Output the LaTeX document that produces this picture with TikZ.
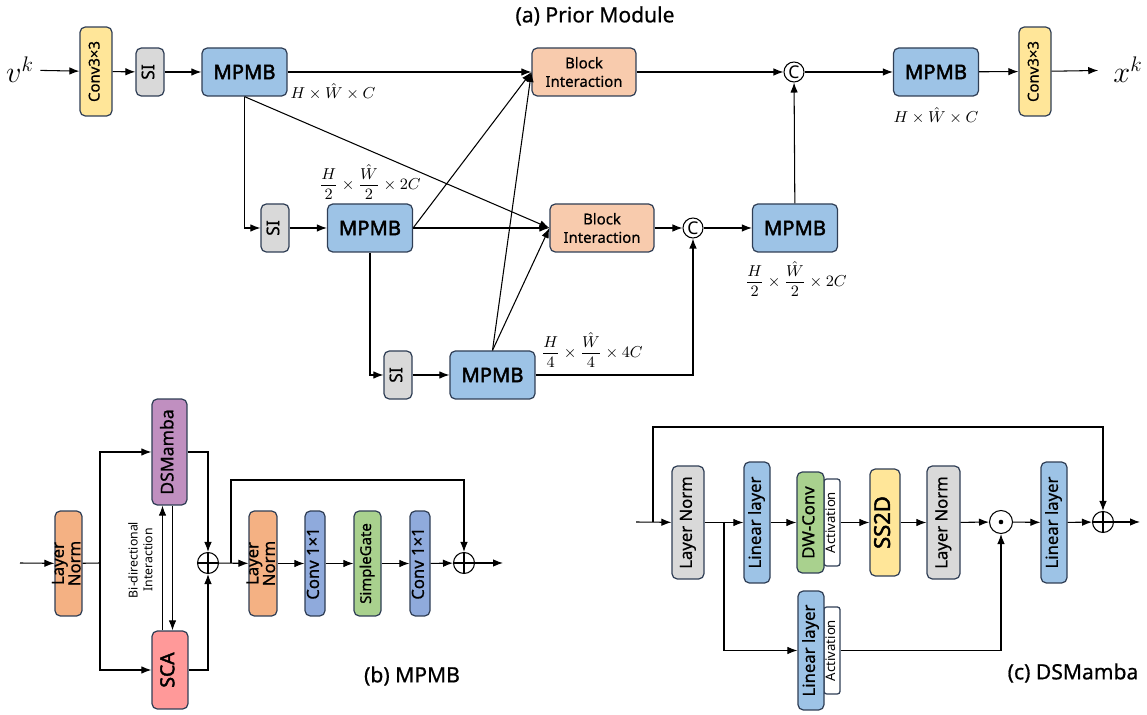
\documentclass[tikz,border=0pt]{standalone}
\usepackage{fontspec}
\setmainfont{Noto Sans}
\newfontfamily\heavy{Noto Sans}[FakeBold=2.2]
\newfontfamily\medium{Noto Sans}[FakeBold=0.7]
\usetikzlibrary{arrows.meta}

\definecolor{edge}{RGB}{47,62,85}
\definecolor{convyellow}{RGB}{255,230,153}
\definecolor{sigray}{RGB}{217,217,217}
\definecolor{mpmbblue}{RGB}{157,195,230}
\definecolor{bipeach}{RGB}{248,203,173}
\definecolor{lnorange}{RGB}{244,177,131}
\definecolor{mambapurple}{RGB}{192,143,192}
\definecolor{scapink}{RGB}{255,153,153}
\definecolor{convblue}{RGB}{143,170,220}
\definecolor{gategreen}{RGB}{169,209,142}

\tikzset{
    blk/.style={draw=edge, line width=0.7pt, rounded corners=3pt, inner sep=0pt},
    mpmb/.style={blk, fill=mpmbblue, minimum width=1.7cm, minimum height=0.96cm, font=\fontsize{11.5}{13}\heavy},
    bi/.style={blk, fill=bipeach, minimum width=2.08cm, minimum height=0.96cm, align=center, font=\fontsize{8.5}{10.5}\medium},
    conv33/.style={blk, fill=convyellow, minimum width=0.64cm, minimum height=1.78cm, font=\fontsize{8.5}{10}\medium},
    si/.style={blk, fill=sigray, minimum width=0.56cm, minimum height=0.96cm, font=\fontsize{10}{12}\medium},
    act/.style={blk, fill=white, rounded corners=1.5pt, minimum width=0.32cm, minimum height=1.74cm, font=\fontsize{7.5}{9}\selectfont},
    cat/.style={draw, circle, inner sep=0pt, minimum size=0.4cm, font=\fontsize{10}{12}\selectfont},
    oplus/.style={draw, circle, inner sep=0pt, minimum size=0.42cm,
        path picture={\draw (path picture bounding box.north) -- (path picture bounding box.south)
                            (path picture bounding box.west) -- (path picture bounding box.east);}},
    odot/.style={draw, circle, inner sep=0pt, minimum size=0.46cm,
        path picture={\fill (path picture bounding box.center) circle (1.3pt);}},
    dims/.style={font=\fontsize{9}{10}\selectfont},
    title/.style={font=\fontsize{12}{14}\medium},
}
\newcommand{\vtext}[1]{\makebox[0pt]{\rotatebox{90}{\begin{tabular}{@{}c@{}}#1\end{tabular}}}}

\begin{document}
\begin{tikzpicture}[x=0.02cm, y=-0.02cm, >={Latex[length=2mm,width=1.5mm]}, line width=0.6pt]
    \useasboundingbox (0,0) rectangle (1147,715);

    % (a) prior module
    \node[title] (titleA) at (595,16) {(a) Prior Module};
    \node[font=\fontsize{17}{20}\selectfont] (vk) at (20,70) {$v^k$};
    \node[conv33] (convA) at (96,71.5) {\vtext{Conv3×3}};
    \node[si] (siA) at (150,72) {\vtext{SI}};
    \node[mpmb] (mpmbA) at (244.5,72) {MPMB};
    \node[bi] (biA) at (584,72) {Block\\Interaction};
    \node[cat] (catA) at (794,72) {C};
    \node[mpmb] (mpmbE) at (936,72) {MPMB};
    \node[conv33] (convB) at (1035,71.5) {\vtext{Conv3×3}};
    \node[font=\fontsize{17}{20}\selectfont] (xk) at (1128,70) {$x^k$};

    \node[si] (siB) at (275,228) {\vtext{SI}};
    \node[mpmb] (mpmbB) at (370,228) {MPMB};
    \node[bi] (biB) at (602,228) {Block\\Interaction};
    \node[cat] (catB) at (693,228) {C};
    \node[mpmb] (mpmbD) at (795,228) {MPMB};
    \node[si] (siC) at (398,375) {\vtext{SI}};
    \node[mpmb] (mpmbC) at (492.5,375) {MPMB};

    \node[dims] (dimA) at (333,92) {$H\times\hat W\times C$};
    \node[dims] (dimE) at (936,116) {$H\times\hat W\times C$};
    \node[dims] (dimB) at (370,182) {$\displaystyle\frac{H}{2}\times\frac{\hat W}{2}\times 2C$};
    \node[dims] (dimD) at (796,279) {$\displaystyle\frac{H}{2}\times\frac{\hat W}{2}\times 2C$};
    \node[dims] (dimC) at (592,350) {$\displaystyle\frac{H}{4}\times\frac{\hat W}{4}\times 4C$};

    \draw[->] (vk) -- (convA);
    \draw[->] (convA) -- (siA);
    \draw[->] (siA) -- (mpmbA);
    \draw[->] (mpmbA) -- (biA);
    \draw[->] (biA) -- (catA);
    \draw[->] (catA) -- (mpmbE);
    \draw[->] (mpmbE) -- (convB);
    \draw[->, shorten >=5pt] (convB) -- (xk);
    \draw[->] (mpmbA.south) |- (siB);
    \draw[->] (mpmbA.south) -- (biB.west);
    \draw[->] (siB) -- (mpmbB);
    \draw[->] (mpmbB) -- (biB);
    \draw[->] (mpmbB.east) -- (biA.west);
    \draw[->] (mpmbB.south) |- (siC);
    \draw[->] (siC) -- (mpmbC);
    \draw[->] (mpmbC.north) -- (biA.west);
    \draw[->] (mpmbC.north) -- (biB.west);
    \draw[->] (mpmbC) -| (catB);
    \draw[->] (biB) -- (catB);
    \draw[->] (catB) -- (mpmbD);
    \draw[->] (mpmbD) -- (catA);

    % (b) MPMB
    \coordinate (inB) at (20,563);
    \node[blk, fill=lnorange, minimum width=0.54cm, minimum height=2.1cm, font=\fontsize{9.5}{9}\medium] (lnB) at (68.5,563.5) {\vtext{Layer\\Norm}};
    \coordinate (splitB) at (100,563);
    \node[blk, fill=mambapurple, minimum width=0.7cm, minimum height=2.12cm, font=\fontsize{10}{11}\medium] (dsmB) at (169.5,452) {\vtext{DSMamba}};
    \node[blk, fill=scapink, minimum width=0.72cm, minimum height=1.56cm, font=\fontsize{11}{12}\heavy] (scaB) at (170,670) {\vtext{SCA}};
    \node[font=\fontsize{7}{8.5}\selectfont] (bidir) at (142,560) {\vtext{Bi-directional\\Interaction}};
    \node[oplus] (addB) at (208,563) {};
    \coordinate (skipB) at (231,563);
    \node[blk, fill=lnorange, minimum width=0.56cm, minimum height=2.1cm, font=\fontsize{9.5}{9}\medium] (lnBB) at (263,563.5) {\vtext{Layer\\Norm}};
    \node[blk, fill=convblue, minimum width=0.4cm, minimum height=2.1cm, font=\fontsize{9.5}{11}\medium] (convC) at (315,563.5) {\vtext{Conv 1×1}};
    \node[blk, fill=gategreen, minimum width=0.54cm, minimum height=2.1cm, font=\fontsize{8.5}{10}\medium] (gate) at (367.5,563.5) {\vtext{SimpleGate}};
    \node[blk, fill=convblue, minimum width=0.4cm, minimum height=2.1cm, font=\fontsize{9.5}{11}\medium] (convD) at (420,563.5) {\vtext{Conv 1×1}};
    \node[oplus] (addBB) at (464,563) {};
    \coordinate (outB) at (503,563);
    \node[title] (titleB) at (412,676) {(b) MPMB};

    \draw[->] (inB) -- (lnB);
    \draw (lnB) -- (splitB);
    \draw[->] (splitB) |- (dsmB);
    \draw[->] (splitB) |- (scaB);
    \draw[->] ([xshift=-0.15cm]scaB.north) -- ([xshift=-0.15cm]scaB.north |- dsmB.south);
    \draw[->] ([xshift=0.06cm]dsmB.south) -- ([xshift=0.06cm]dsmB.south |- scaB.north);
    \draw[->] (dsmB) -| (addB);
    \draw[->] (scaB) -| (addB);
    \draw[->] (addB) -- (lnBB);
    \draw[->] (skipB) -- ++(0,-83) -| (addBB);
    \draw[->] (lnBB) -- (convC);
    \draw[->] (convC) -- (gate);
    \draw[->] (gate) -- (convD);
    \draw[->] (convD) -- (addBB);
    \draw[->] (addBB) -- (outB);

    % (c) DSMamba
    \coordinate (inC) at (636,522);
    \coordinate (skipC) at (653,522);
    \node[blk, fill=sigray, minimum width=0.64cm, minimum height=2.26cm, font=\fontsize{9.5}{11}\medium] (lnC) at (688,522.5) {\vtext{Layer Norm}};
    \coordinate (splitC) at (724,522);
    \node[blk, fill=mpmbblue, minimum width=0.52cm, minimum height=2.42cm, font=\fontsize{9.5}{11}\medium] (linA) at (757,522.5) {\vtext{Linear layer}};
    \node[act] (actA) at (832,522.5) {\vtext{Activation}};
    \node[blk, fill=gategreen, minimum width=0.54cm, minimum height=2.02cm, font=\fontsize{9.5}{11}\medium] (dwconv) at (810.5,522.5) {\vtext{DW-Conv}};
    \node[blk, fill=convyellow, minimum width=0.6cm, minimum height=2.14cm, font=\fontsize{12.5}{14}\heavy] (ssd) at (885,522.5) {\vtext{SS2D}};
    \node[blk, fill=sigray, minimum width=0.66cm, minimum height=2.26cm, font=\fontsize{9.5}{11}\medium] (lnCC) at (943.5,522.5) {\vtext{Layer Norm}};
    \node[odot] (mulC) at (1001,522) {};
    \node[blk, fill=mpmbblue, minimum width=0.52cm, minimum height=2.42cm, font=\fontsize{9.5}{11}\medium] (linC) at (1054,522.5) {\vtext{Linear layer}};
    \node[oplus] (addC) at (1103,522) {};
    \coordinate (outC) at (1140,522);
    \node[act] (actB) at (832,650.5) {\vtext{Activation}};
    \node[blk, fill=mpmbblue, minimum width=0.52cm, minimum height=2.38cm, font=\fontsize{9.5}{11}\medium] (linB) at (811,650.5) {\vtext{Linear layer}};
    \node[title] (titleC) at (1073,673) {(c) DSMamba};

    \draw[->] (inC) -- (lnC);
    \draw[->] (skipC) -- ++(0,-95) -| (addC);
    \draw[->] (lnC) -- (linA);
    \draw[->] (splitC) |- (linB);
    \draw[->] (linA) -- (dwconv);
    \draw[->] (actA) -- (ssd);
    \draw[->] (ssd) -- (lnCC);
    \draw[->] (lnCC) -- (mulC);
    \draw[->] (mulC) -- (linC);
    \draw[->] (linC) -- (addC);
    \draw[->] (addC) -- (outC);
    \draw[->] (actB) -| (mulC);
\end{tikzpicture}
\end{document}
